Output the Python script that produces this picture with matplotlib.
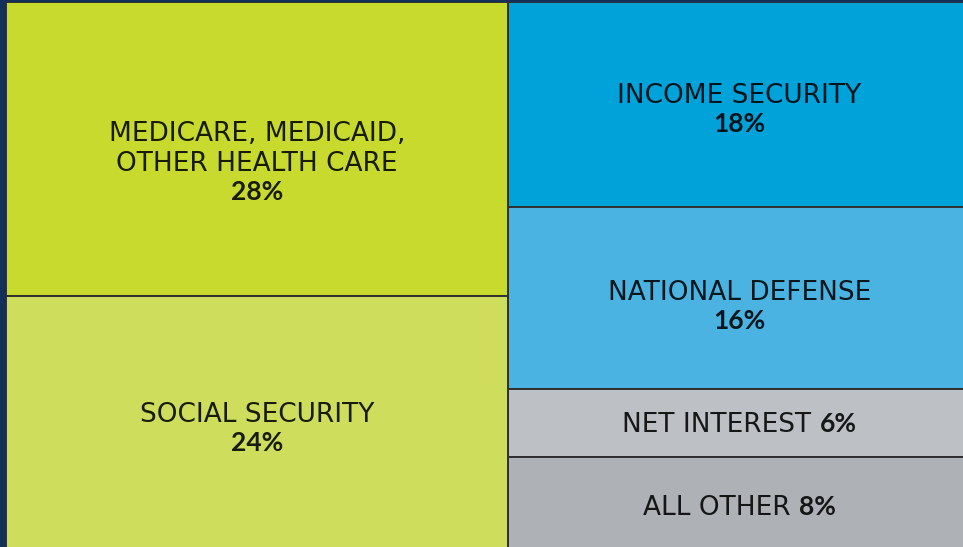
import matplotlib.pyplot as plt
from matplotlib.patches import Rectangle
from matplotlib.transforms import offset_copy

# Federal spending shares (%)
left_names = [['MEDICARE, MEDICAID,', 'OTHER HEALTH CARE'], ['SOCIAL SECURITY']]
left_values = [28, 24]
left_colors = ['#C8DA2E', '#CEDE5C']

right_names = [['INCOME SECURITY'], ['NATIONAL DEFENSE'], ['NET INTEREST'], ['ALL OTHER']]
right_values = [18, 16, 6, 8]
right_colors = ['#00A3D9', '#4AB3E2', '#BDC0C5', '#AEB1B6']
inline_rows = ['NET INTEREST', 'ALL OTHER']

FS = 19
CAP = 19            # cap height in px
PITCH = 30          # line pitch in px
PCT_GAP = 29        # last name baseline -> percent baseline
NAME_FONT = dict(family='DejaVu Sans', fontsize=FS, color='black', alpha=0.88)
PCT_FONT = dict(family='Lato', fontsize=FS, fontweight='bold', color='black', alpha=0.88)

fig = plt.figure(figsize=(9.63, 5.47), dpi=100)
fig.patch.set_facecolor('#13305A')
# the chart is cropped slightly on the right in the original
ax = fig.add_axes([6 / 963, -1 / 547, 965 / 963, 546 / 547])
ax.set_xlim(0, 100)
ax.set_ylim(0, 100)
ax.axis('off')
renderer = fig.canvas.get_renderer()


def shifted(dx=0, dy=0):
    return offset_copy(ax.transData, fig=fig, x=dx, y=dy, units='dots')


def label(x, y, lines, pct, shift):
    if lines[0] in inline_rows:
        # single row: name + bold percent
        name = ax.text(x, y, lines[0] + ' ', ha='left', va='baseline', **NAME_FONT)
        num = ax.text(x, y, f'{pct}%', ha='left', va='baseline', **PCT_FONT)
        w1 = name.get_window_extent(renderer).width
        w2 = num.get_window_extent(renderer).width
        base = -CAP / 2 - shift
        name.set_transform(shifted(-(w1 + w2) / 2, base))
        num.set_transform(shifted(-(w1 + w2) / 2 + w1, base))
        return
    h = CAP + PITCH * (len(lines) - 1) + PCT_GAP
    top = h / 2 - shift
    for i, ln in enumerate(lines):
        ax.text(x, y, ln, ha='center', va='baseline',
                transform=shifted(0, top - CAP - i * PITCH), **NAME_FONT)
    ax.text(x, y, f'{pct}%', ha='center', va='baseline',
            transform=shifted(0, top - CAP - (len(lines) - 1) * PITCH - PCT_GAP), **PCT_FONT)


shifts = {'MEDICARE, MEDICAID,': 12, 'SOCIAL SECURITY': 5, 'INCOME SECURITY': 4,
          'NATIONAL DEFENSE': 7, 'NET INTEREST': 0, 'ALL OTHER': 3}


def column(x0, names, values, colors):
    width = sum(values)
    top = 100
    for n, v, c in zip(names, values, colors):
        h = v / sum(values) * 100
        ax.add_patch(Rectangle((x0, top - h), width, h, facecolor=c,
                               edgecolor='#2F2F2F', linewidth=1.4))
        label(x0 + width / 2, top - h / 2, n, v, shifts[n[0]])
        top -= h


column(0, left_names, left_values, left_colors)
column(sum(left_values), right_names, right_values, right_colors)

fig.savefig('out.png', dpi=100, facecolor=fig.get_facecolor())
